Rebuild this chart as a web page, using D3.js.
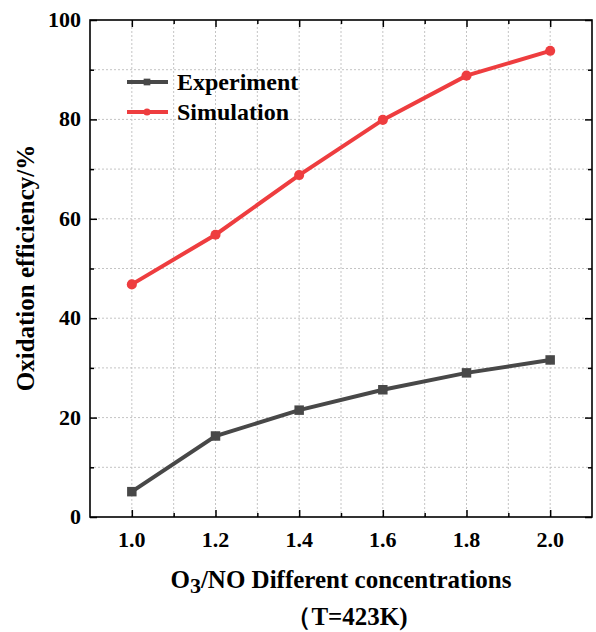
<!DOCTYPE html>
<html>
<head>
<meta charset="utf-8">
<script src="https://cdn.jsdelivr.net/npm/d3@7"></script>
<style>
  body { margin: 0; background: #fff; }
  svg text { font-family: "Liberation Serif", "Times New Roman", serif; font-weight: bold; fill: #000; }
</style>
</head>
<body>
<div id="chart"></div>
<script>
var ratios = [1.0, 1.2, 1.4, 1.6, 1.8, 2.0];
var experiment = [5.1, 16.3, 21.5, 25.6, 29.0, 31.6];
var simulation = [46.8, 56.8, 68.8, 79.9, 88.8, 93.8];
var xTicks = [1.0, 1.2, 1.4, 1.6, 1.8, 2.0];
var yTicks = [0, 20, 40, 60, 80, 100];

var width = 596, height = 632;
var m = { left: 90, right: 4, top: 20, bottom: 115 };

var svg = d3.select('#chart').append('svg')
  .attr('width', width)
  .attr('height', height);

var x = d3.scaleLinear().domain([0.9, 2.1]).range([m.left, width - m.right]);
var y = d3.scaleLinear().domain([0, 100]).range([height - m.bottom, m.top]);

var minorX = d3.range(9, 22).map(function (d) { return d / 10; }).filter(function (d) { return d > 0.9 && d < 2.1; });
var minorY = d3.range(10, 100, 10);

// grid
var grid = svg.append('g');
grid.selectAll('line.gx')
  .data(minorX)
  .enter().append('line')
  .attr('x1', function (d) { return x(d); })
  .attr('x2', function (d) { return x(d); })
  .attr('y1', y(0))
  .attr('y2', y(100))
  .attr('stroke', '#c4c4c4')
  .attr('stroke-dasharray', '2,2');
grid.selectAll('line.gy')
  .data(minorY)
  .enter().append('line')
  .attr('y1', function (d) { return y(d); })
  .attr('y2', function (d) { return y(d); })
  .attr('x1', x(0.9))
  .attr('x2', x(2.1))
  .attr('stroke', '#c4c4c4')
  .attr('stroke-dasharray', '2,2');

// axes with inward ticks
function addTicks(axis, tickVals, len) {
  return axis.tickValues(tickVals).tickSizeInner(-len).tickSizeOuter(0).tickFormat('');
}
var ih = height - m.bottom;
var minorXOnly = minorX.filter(function (d) { return xTicks.indexOf(d) < 0; });
var minorYOnly = minorY.filter(function (d) { return yTicks.indexOf(d) < 0; });
svg.append('g').attr('transform', 'translate(0,' + ih + ')').call(addTicks(d3.axisBottom(x), xTicks, 7));
svg.append('g').attr('transform', 'translate(0,' + ih + ')').call(addTicks(d3.axisBottom(x), minorXOnly, 4));
svg.append('g').attr('transform', 'translate(0,' + m.top + ')').call(addTicks(d3.axisTop(x), xTicks, 7));
svg.append('g').attr('transform', 'translate(0,' + m.top + ')').call(addTicks(d3.axisTop(x), minorXOnly, 4));
svg.append('g').attr('transform', 'translate(' + m.left + ',0)').call(addTicks(d3.axisLeft(y), yTicks, 7));
svg.append('g').attr('transform', 'translate(' + m.left + ',0)').call(addTicks(d3.axisLeft(y), minorYOnly, 4));
svg.append('g').attr('transform', 'translate(' + (width - m.right) + ',0)').call(addTicks(d3.axisRight(y), yTicks, 7));
svg.append('g').attr('transform', 'translate(' + (width - m.right) + ',0)').call(addTicks(d3.axisRight(y), minorYOnly, 4));
svg.selectAll('.domain').remove();
svg.selectAll('.tick line').attr('stroke', '#000').attr('stroke-width', 1.5);

// frame
svg.append('rect')
  .attr('x', m.left)
  .attr('y', m.top)
  .attr('width', width - m.right - m.left)
  .attr('height', ih - m.top)
  .attr('fill', 'none')
  .attr('stroke', '#000')
  .attr('stroke-width', 1.6);

// tick labels
svg.append('g').selectAll('text')
  .data(xTicks)
  .enter().append('text')
  .attr('x', function (d) { return x(d); })
  .attr('y', ih + 30)
  .attr('text-anchor', 'middle')
  .attr('font-size', 22)
  .text(function (d) { return d.toFixed(1); });
svg.append('g').selectAll('text')
  .data(yTicks)
  .enter().append('text')
  .attr('x', m.left - 9)
  .attr('y', function (d) { return y(d) + 7; })
  .attr('text-anchor', 'end')
  .attr('font-size', 22)
  .text(function (d) { return d; });

// axis titles
var xt = svg.append('text')
  .attr('x', 341)
  .attr('y', 588)
  .attr('text-anchor', 'middle')
  .attr('font-size', 25);
xt.append('tspan').text('O');
xt.append('tspan').attr('font-size', 22).attr('dy', 5).text('3');
xt.append('tspan').attr('dy', -5).text('/NO Different concentrations');
svg.append('text')
  .attr('x', 347)
  .attr('y', 625)
  .attr('text-anchor', 'middle')
  .attr('font-size', 25)
  .text('\uFF08T=423K)');
svg.append('text')
  .attr('transform', 'translate(34,' + 268 + ') rotate(-90)')
  .attr('text-anchor', 'middle')
  .attr('font-size', 25)
  .text('Oxidation efficiency/%');

// series
var series = [
  { name: 'Experiment', values: experiment, color: '#484848', shape: d3.symbolSquare, size: 90 },
  { name: 'Simulation', values: simulation, color: '#ee3d3f', shape: d3.symbolCircle, size: 80 }
];
var line = d3.line()
  .x(function (d) { return x(d[0]); })
  .y(function (d) { return y(d[1]); });

series.forEach(function (s) {
  var pts = ratios.map(function (r, i) { return [r, s.values[i]]; });
  svg.append('path')
    .datum(pts)
    .attr('d', line)
    .attr('fill', 'none')
    .attr('stroke', s.color)
    .attr('stroke-width', 4);
  svg.append('g').selectAll('path')
    .data(pts)
    .enter().append('path')
    .attr('transform', function (d) { return 'translate(' + x(d[0]) + ',' + y(d[1]) + ')'; })
    .attr('d', d3.symbol().type(s.shape).size(s.size))
    .attr('fill', s.color);
});

// legend
var legend = svg.append('g');
series.forEach(function (s, i) {
  var ly = 82 + i * 30;
  legend.append('line')
    .attr('x1', 127).attr('x2', 168)
    .attr('y1', ly).attr('y2', ly)
    .attr('stroke', s.color)
    .attr('stroke-width', 4);
  legend.append('path')
    .attr('transform', 'translate(147,' + ly + ')')
    .attr('d', d3.symbol().type(s.shape).size(s.size * 0.5))
    .attr('fill', s.color);
  legend.append('text')
    .attr('x', 177)
    .attr('y', ly + 8)
    .attr('font-size', 24)
    .text(s.name);
});
</script>
</body>
</html>
